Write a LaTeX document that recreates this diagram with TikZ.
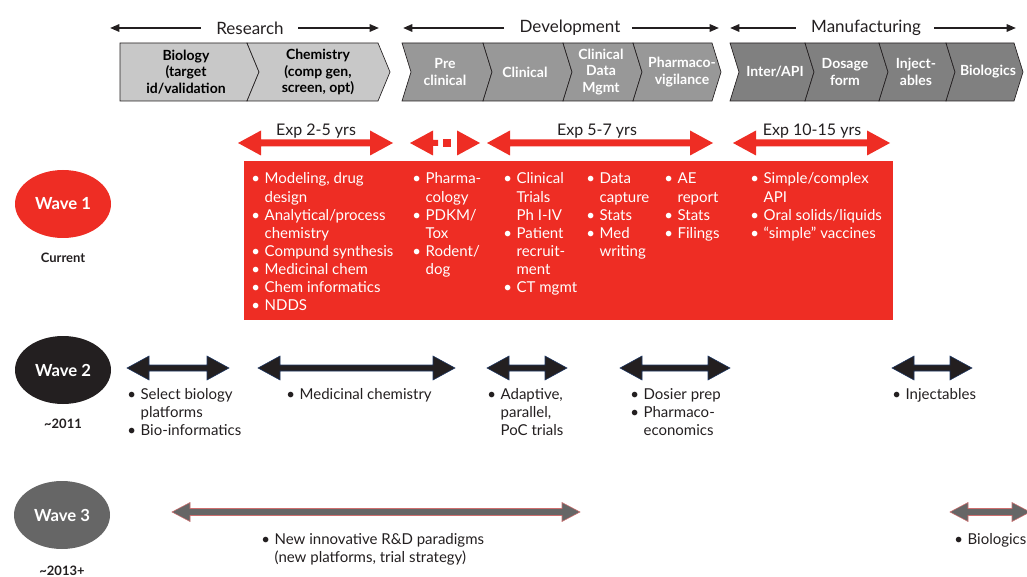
\documentclass[tikz,border=0pt]{standalone}
\usepackage{fontspec}
\setmainfont{Lato}
\usetikzlibrary{arrows.meta,shapes.geometric}

\definecolor{wavered}{RGB}{238,45,36}
\definecolor{resgray}{RGB}{200,200,200}
\definecolor{devgray}{RGB}{152,152,152}
\definecolor{mangray}{RGB}{128,128,128}
\definecolor{wavegray}{RGB}{102,102,102}
\definecolor{txtgray}{RGB}{35,31,32}
\definecolor{navyline}{RGB}{31,56,100}
\definecolor{pinkline}{RGB}{205,110,110}

% double headed block arrow: style, x1, x2, y, head length, head half height, shaft half height
\newcommand{\dblarrow}[7]{%
  \path[#1] (#2,#4) -- (#2+#5,#4-#6) -- (#2+#5,#4-#7) -- (#3-#5,#4-#7) -- (#3-#5,#4-#6) -- (#3,#4)
    -- (#3-#5,#4+#6) -- (#3-#5,#4+#7) -- (#2+#5,#4+#7) -- (#2+#5,#4+#6) -- cycle;}

\begin{document}
\begin{tikzpicture}[x=0.75pt,y=0.75pt,yscale=-1,xscale=1,
  hdrtext/.style={font=\fontsize{12.75}{15}\selectfont, text=txtgray, inner sep=1pt},
  hdrarrow/.style={draw=txtgray, line width=1.5pt, -{Triangle[length=7pt,width=5.5pt]}},
  chevres/.style={fill=resgray, draw=txtgray, line width=0.5pt},
  chevdev/.style={fill=devgray, draw=txtgray, line width=0.5pt},
  chevman/.style={fill=mangray, draw=txtgray, line width=0.5pt},
  chevtxt/.style={font=\fontsize{10.5}{12.6}\selectfont\bfseries, align=center, inner sep=0pt},
  exptext/.style={font=\fontsize{12}{14}\selectfont, text=txtgray, fill=white, inner sep=0.6pt},
  redarrow/.style={fill=wavered},
  blkarrow/.style={fill=txtgray, draw=navyline, line width=0.4pt},
  grayarrow/.style={fill=wavegray, draw=pinkline, line width=0.4pt},
  wave/.style={ellipse, minimum width=72pt, minimum height=51pt, inner sep=0pt, text=white, font=\fontsize{12.5}{15}\selectfont\bfseries},
  wavedate/.style={font=\fontsize{9.75}{12}\selectfont\bfseries, text=txtgray},
  boxlist/.style={anchor=base west, inner sep=0pt, text=white, font=\fontsize{11.25}{13.6}\selectfont},
  rowlist/.style={anchor=base west, inner sep=0pt, text=txtgray, font=\fontsize{11.25}{13.5}\selectfont}]

\useasboundingbox (0,0) rectangle (1027,577);

% Header labels and arrows
\node[hdrtext] (research) at (250,28) {Research};
\node[hdrtext] (development) at (570,28) {Development};
\node[hdrtext] (manufacturing) at (866,28) {Manufacturing};
\draw[hdrarrow] (research.west) ++(-14,0) -- (110,28);
\draw[hdrarrow] (research.east) ++(13,0) -- (379,28);
\draw[hdrarrow] (development.west) ++(-14,0) -- (403,28);
\draw[hdrarrow] (development.east) ++(10,0) -- (719,28);
\draw[hdrarrow] (manufacturing.west) ++(-14,0) -- (730,28);
\draw[hdrarrow] (manufacturing.east) ++(12,0) -- (1016,28);

%Shape: Research chevrons
\path[chevres] (120,43) -- (247,43) -- (259,72) -- (247,101) -- (120,101) -- cycle;
\path[chevres] (247,43) -- (378,43) -- (390,72) -- (378,101) -- (247,101) -- (259,72) -- cycle;
%Shape: Development chevrons
\path[chevdev] (402,43) -- (483,43) -- (492,72) -- (483,101) -- (402,101) -- (411,72) -- cycle;
\path[chevdev] (483,43) -- (563,43) -- (572,72) -- (563,101) -- (483,101) -- (492,72) -- cycle;
\path[chevdev] (563,43) -- (633,43) -- (642,72) -- (633,101) -- (563,101) -- (572,72) -- cycle;
\path[chevdev] (633,43) -- (712,43) -- (721,72) -- (712,101) -- (633,101) -- (642,72) -- cycle;
%Shape: Manufacturing chevrons
\path[chevman] (730,43) -- (805,43) -- (814,72) -- (805,101) -- (730,101) -- (739,72) -- cycle;
\path[chevman] (805,43) -- (879,43) -- (888,72) -- (879,101) -- (805,101) -- (814,72) -- cycle;
\path[chevman] (879,43) -- (946,43) -- (955,72) -- (946,101) -- (879,101) -- (888,72) -- cycle;
\path[chevman] (946,43) -- (1014,43) -- (1023,72) -- (1014,101) -- (946,101) -- (955,72) -- cycle;

% Text Node
\node[chevtxt, text=black] (biology) at (186,72) {Biology\\(target\\id/validation};
\node[chevtxt, text=black] (chemistry) at (318,72) {Chemistry\\(comp gen,\\screen, opt)};
\node[chevtxt, text=white] (preclin) at (445,72) {Pre\\clinical};
\node[chevtxt, text=white] (clinical) at (525,72) {Clinical};
\node[chevtxt, text=white] (cdm) at (601,72) {Clinical\\Data\\Mgmt};
\node[chevtxt, text=white] (pharmvig) at (682,72) {Pharmaco-\\vigilance};
\node[chevtxt, text=white] (interapi) at (775,72) {Inter/API};
\node[chevtxt, text=white] (dosage) at (845,72) {Dosage\\form};
\node[chevtxt, text=white] (inject) at (916,72) {Inject-\\ables};
\node[chevtxt, text=white] (biologics) at (988,72) {Biologics};

%Shape: Experience arrows
\dblarrow{redarrow}{238}{393}{143}{23}{12.5}{3.5}
\dblarrow{redarrow}{487}{713}{143}{23}{12.5}{3.5}
\dblarrow{redarrow}{733}{890}{143}{23}{12.5}{3.5}
\path[redarrow] (410,143) -- (433,130.5) -- (433,140) -- (438,140) -- (438,146) -- (433,146) -- (433,155.5) -- cycle;
\path[redarrow] (443,139) rectangle (451,147);
\path[redarrow] (480,143) -- (457,130.5) -- (457,155.5) -- cycle;
\node[exptext] (exp1) at (316,131) {Exp 2-5 yrs};
\node[exptext] (exp2) at (597,131) {Exp 5-7 yrs};
\node[exptext] (exp3) at (812,131) {Exp 10-15 yrs};

%Shape: Wave 1 box
\path[fill=wavered] (244,161) rectangle (893,320);
\node[boxlist] (w1col1) at (251,184) {\begin{tabular}[t]{@{}l@{\hspace{3.5pt}}l@{}}
\textbullet & Modeling, drug\\ & design\\ \textbullet & Analytical/process\\ & chemistry\\
\textbullet & Compund synthesis\\ \textbullet & Medicinal chem\\ \textbullet & Chem informatics\\ \textbullet & NDDS\end{tabular}};
\node[boxlist] (w1col2) at (412,184) {\begin{tabular}[t]{@{}l@{\hspace{3.5pt}}l@{}}
\textbullet & Pharma-\\ & cology\\ \textbullet & PDKM/\\ & Tox\\ \textbullet & Rodent/\\ & dog\end{tabular}};
\node[boxlist] (w1col3) at (503,184) {\begin{tabular}[t]{@{}l@{\hspace{3.5pt}}l@{}}
\textbullet & Clinical\\ & Trials\\ & Ph I-IV\\ \textbullet & Patient\\ & recruit-\\ & ment\\ \textbullet & CT mgmt\end{tabular}};
\node[boxlist] (w1col4) at (586,184) {\begin{tabular}[t]{@{}l@{\hspace{3.5pt}}l@{}}
\textbullet & Data\\ & capture\\ \textbullet & Stats\\ \textbullet & Med\\ & writing\end{tabular}};
\node[boxlist] (w1col5) at (664,184) {\begin{tabular}[t]{@{}l@{\hspace{3.5pt}}l@{}}
\textbullet & AE\\ & report\\ \textbullet & Stats\\ \textbullet & Filings\end{tabular}};
\node[boxlist] (w1col6) at (750,184) {\begin{tabular}[t]{@{}l@{\hspace{3.5pt}}l@{}}
\textbullet & Simple/complex\\ & API\\ \textbullet & Oral solids/liquids\\ \textbullet & “simple” vaccines\end{tabular}};

% Wave nodes
\node[wave, fill=wavered] (wave1) at (63,204) {Wave 1};
\node[wavedate] (current) at (63,258) {Current};
\node[wave, fill=txtgray] (wave2) at (63,370) {Wave 2};
\node[wavedate] (y2011) at (63,424) {\textasciitilde2011};
\node[wave, fill=wavegray] (wave3) at (62,515) {Wave 3};
\node[wavedate] (y2013) at (62,571) {\textasciitilde2013+};

%Shape: Wave 2 arrows
\dblarrow{blkarrow}{127}{229}{368}{22}{12}{3}
\dblarrow{blkarrow}{258}{455}{368}{22}{12}{3}
\dblarrow{blkarrow}{487}{567}{368}{22}{12}{3}
\dblarrow{blkarrow}{620}{730}{368}{22}{12}{3}
\dblarrow{blkarrow}{892}{972}{368}{22}{12}{3}
\node[rowlist] (w2biol) at (127,399) {\begin{tabular}[t]{@{}l@{\hspace{3.5pt}}l@{}}
\textbullet & Select biology\\ & platforms\\ \textbullet & Bio-informatics\end{tabular}};
\node[rowlist] (w2chem) at (286,399) {\textbullet\hspace{3.5pt}Medicinal chemistry};
\node[rowlist] (w2clin) at (487,399) {\begin{tabular}[t]{@{}l@{\hspace{3.5pt}}l@{}}
\textbullet & Adaptive,\\ & parallel,\\ & PoC trials\end{tabular}};
\node[rowlist] (w2dos) at (630,399) {\begin{tabular}[t]{@{}l@{\hspace{3.5pt}}l@{}}
\textbullet & Dosier prep\\ \textbullet & Pharmaco-\\ & economics\end{tabular}};
\node[rowlist] (w2inj) at (892,399) {\textbullet\hspace{3.5pt}Injectables};

%Shape: Wave 3 arrows
\dblarrow{grayarrow}{172}{580}{512}{18}{9.5}{3.5}
\dblarrow{grayarrow}{950}{1030}{512}{18}{9.5}{3.5}
\node[rowlist] (w3new) at (261,544) {\begin{tabular}[t]{@{}l@{\hspace{3.5pt}}l@{}}
\textbullet & New innovative R\&D paradigms\\ & (new platforms, trial strategy)\end{tabular}};
\node[rowlist] (w3bio) at (954,544) {\textbullet\hspace{3.5pt}Biologics};

\end{tikzpicture}
\end{document}
